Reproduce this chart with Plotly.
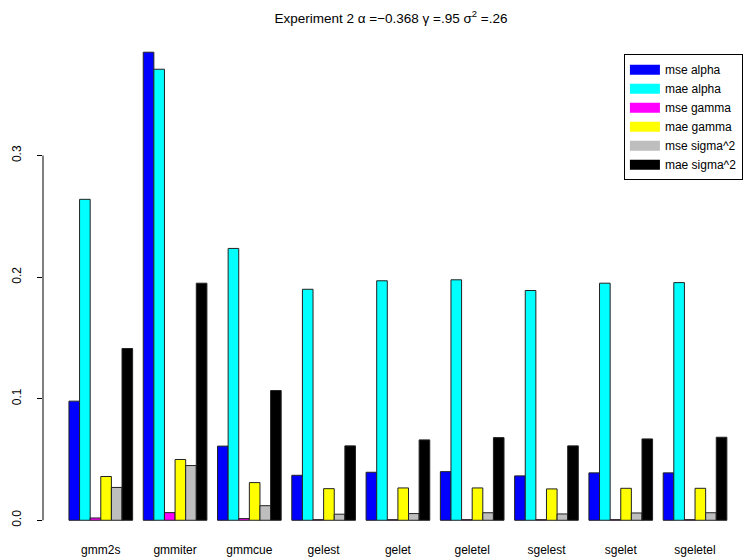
import plotly.graph_objects as go

methods = ["gmm2s", "gmmiter", "gmmcue", "gelest", "gelet", "geletel", "sgelest", "sgelet", "sgeletel"]
series_names = ["mse alpha", "mae alpha", "mse gamma", "mae gamma", "mse sigma^2", "mae sigma^2"]

mse_alpha = [0.098, 0.385, 0.061, 0.037, 0.0395, 0.040, 0.0365, 0.039, 0.039]
mae_alpha = [0.264, 0.371, 0.2236, 0.190, 0.197, 0.1978, 0.189, 0.195, 0.1955]
mse_gamma = [0.0019, 0.0063, 0.0014, 0.0005, 0.0005, 0.0005, 0.0005, 0.0005, 0.0005]
mae_gamma = [0.036, 0.050, 0.031, 0.026, 0.0266, 0.0266, 0.0258, 0.0263, 0.0263]
mse_sigma2 = [0.027, 0.045, 0.012, 0.005, 0.0055, 0.0062, 0.0052, 0.006, 0.0062]
mae_sigma2 = [0.1413, 0.195, 0.1067, 0.0612, 0.0661, 0.068, 0.0612, 0.0669, 0.0683]

series_values = [mse_alpha, mae_alpha, mse_gamma, mae_gamma, mse_sigma2, mae_sigma2]
colors = ["#0000FF", "#00FFFF", "#FF00FF", "#FFFF00", "#BEBEBE", "#000000"]

y_ticks = [0.0, 0.1, 0.2, 0.3]
y_tick_labels = ["0.0", "0.1", "0.2", "0.3"]

FONT = "Liberation Sans, Arial, Helvetica, sans-serif"

fig = go.Figure()
for name, vals, col in zip(series_names, series_values, colors):
    fig.add_trace(go.Bar(
        x=methods, y=vals, name=name, showlegend=False,
        marker=dict(color=col, line=dict(color="#222222", width=1)),
    ))
# legend-only entries drawn as thick lines (like R's legend with lwd)
for name, col in zip(series_names, colors):
    fig.add_trace(go.Scatter(
        x=[None], y=[None], mode="lines", name=name,
        line=dict(color=col, width=10),
    ))

fig.update_layout(
    width=748, height=560,
    margin=dict(l=43, r=0, t=33, b=21),
    paper_bgcolor="white", plot_bgcolor="white",
    barmode="group", bargap=1/7, bargroupgap=0,
    font=dict(family=FONT, size=12, color="black"),
    title=dict(
        text="Experiment 2 α =−0.368 γ =.95 σ<sup>2</sup> =.26",
        x=391/748, xanchor="center", xref="container",
        y=1 - 18/560, yanchor="middle", yref="container",
        font=dict(family=FONT, size=13.5, color="black"),
    ),
    legend=dict(
        x=0.824, xanchor="left", y=0.958, yanchor="top",
        bgcolor="white", bordercolor="black", borderwidth=1,
        font=dict(family=FONT, size=12, color="black"),
        tracegroupgap=0, itemwidth=30,
    ),
    xaxis=dict(
        range=[-0.778, 8.713], showgrid=False, zeroline=False, showline=False,
        ticks="", tickfont=dict(size=12), fixedrange=True, ticklabelstandoff=2,
    ),
    yaxis=dict(
        range=[-0.0154, 0.4008], showgrid=False, zeroline=False, showline=False,
        tickvals=y_ticks, ticktext=y_tick_labels, ticks="outside", ticklen=5,
        tickcolor="black", tickwidth=1, tickangle=-90, tickfont=dict(size=12),
        ticklabelstandoff=11, fixedrange=True,
    ),
    shapes=[dict(type="line", xref="paper", yref="y", x0=0, x1=0,
                 y0=y_ticks[0], y1=y_ticks[-1], line=dict(color="black", width=1))],
)

fig.write_html(
    "out.html",
    config={"displayModeBar": False},
    post_script="document.body.style.margin='0';document.body.style.padding='0';",
)
